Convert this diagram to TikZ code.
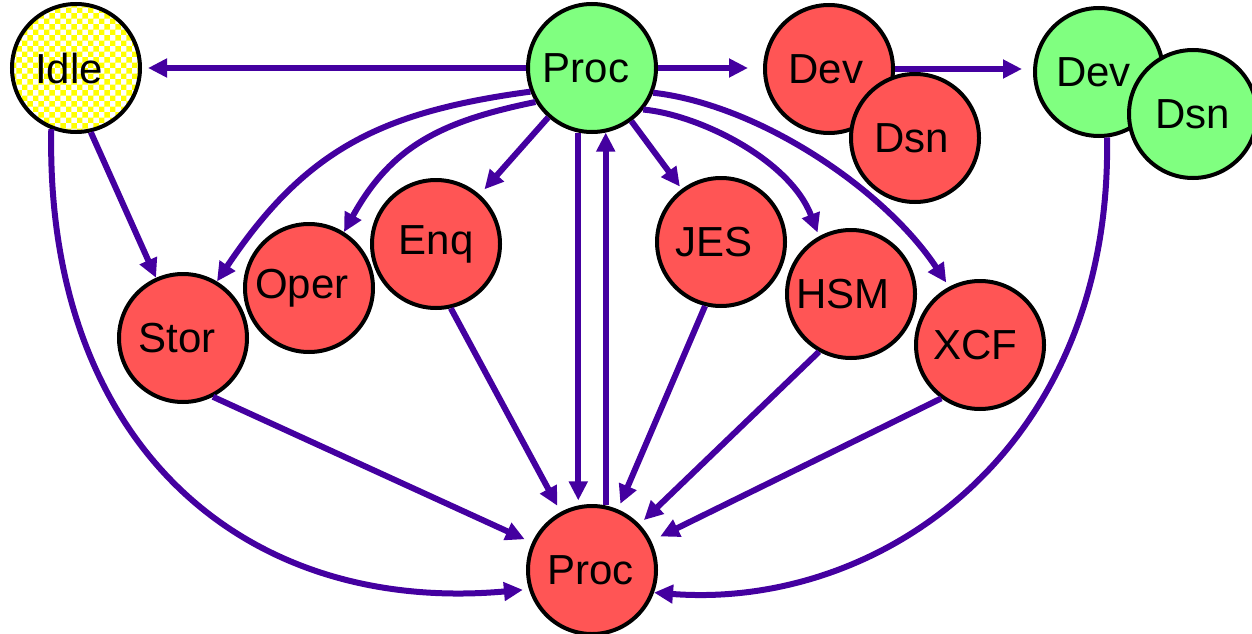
\documentclass[tikz,border=0pt]{standalone}
\usepackage{fontspec}
\setmainfont{Liberation Sans}
\usetikzlibrary{arrows.meta,patterns}
\definecolor{edgeviolet}{RGB}{68,0,160}
\definecolor{statered}{RGB}{255,85,85}
\definecolor{stategreen}{RGB}{128,255,128}
\definecolor{stateyellow}{RGB}{255,255,0}

\begin{document}
\begin{tikzpicture}[x=1pt,y=-1pt,
  state/.style={circle,draw=black,line width=4pt,minimum size=128pt,inner sep=0pt,
    font=\fontsize{42}{48}\selectfont},
  busy/.style={state,fill=statered},
  ready/.style={state,fill=stategreen},
  idlestate/.style={state,preaction={fill=white},pattern=checkerboard,pattern color=stateyellow},
  arr/.style={draw=edgeviolet,line width=6pt,-{Triangle[length=19pt,width=18pt]}}
]
\useasboundingbox (0,0) rectangle (1252,634);

% states (a leading \kern moves a label a little to the left of centre)
\node[idlestate] (idle)  at (76,68)   {\kern-14pt Idle};
\node[ready]     (procT) at (592,68)  {\kern-12pt Proc};
\node[busy]      (devR)  at (829,69)  {\kern-6pt Dev};
\node[busy]      (dsnR)  at (915,138) {\kern-7pt Dsn};
\node[ready]     (devG)  at (1099,72) {\kern-11pt Dev};
\node[ready]     (dsnG)  at (1193,114) {Dsn};
\node[busy]      (stor)  at (183,338) {\kern-12pt Stor};
\node[busy]      (oper)  at (309,288) {\kern-14pt Oper};
\node[busy]      (enq)   at (436,244) {Enq};
\node[busy]      (jes)   at (721,242) {\kern-14pt JES};
\node[busy]      (hsm)   at (851,294) {\kern-16pt HSM};
\node[busy]      (xcf)   at (980,345) {\kern-10pt XCF};
\node[busy]      (procB) at (592,570) {\kern-3pt Proc};

% transitions out of the running processor
\draw[arr, shorten >=6pt]  (procT.west) -- (procT.west -| idle.east);
\draw[arr, shorten >=15pt] (procT.east) -- (procT.east -| devR.west);
\draw[arr, shorten >=11pt] (devR.east) -- (devR.east -| devG.west);
\draw[arr] (procT.201) .. controls (380,112) and (305,150) .. (stor.59);
\draw[arr] (procT.211) .. controls (443,121) and (392,145) .. (oper.58);
\draw[arr, shorten >=7pt] (procT) -- (enq);
\draw[arr, shorten >=3pt] (procT) -- (jes);
\draw[arr, shorten >=4pt] (procT.-39) .. controls (700,115) and (790,160) .. (hsm.119);
\draw[arr, shorten >=5pt] (procT.-22) .. controls (760,105) and (885,190) .. (xcf.118);
\draw[arr, shorten >=5pt] (procT.-102) -- (procB.102);
\draw[arr] (procB.78) -- (procT.-78);

% idle
\draw[arr] (idle.-77) -- (stor);
\draw[arr, shorten >=6pt] (idle.248) .. controls (45,440) and (240,615) .. (procB.197);

% waits returning to the processor
\draw[arr, shorten >=8pt]  (stor.-63) -- (procB);
\draw[arr, shorten >=7pt]  (enq.-77) -- (procB);
\draw[arr, shorten >=6pt]  (jes.-104) -- (procB);
\draw[arr, shorten >=6pt]  (hsm.-119) -- (procB);
\draw[arr, shorten >=10pt] (xcf.-126) -- (procB);
\draw[arr] (devG.-83) .. controls (1112,450) and (880,610) .. (procB.-20);
\end{tikzpicture}
\end{document}
